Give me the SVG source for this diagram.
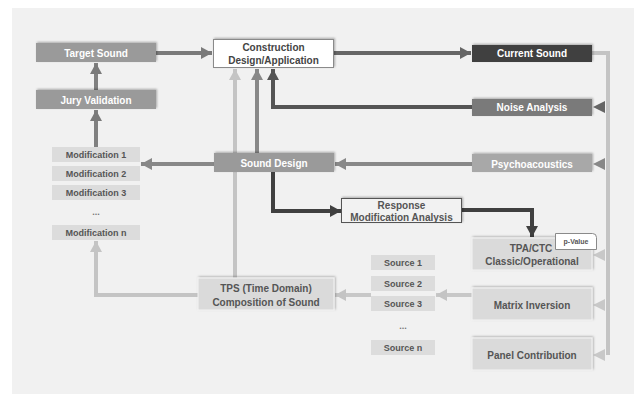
<svg xmlns="http://www.w3.org/2000/svg" width="634" height="394" viewBox="0 0 634 394">
<style>
text{font-family:"Liberation Sans",Arial,sans-serif;font-weight:bold;text-anchor:middle}
.w{fill:#ffffff;font-size:10px}
.d{fill:#555555;font-size:10px}
.k{fill:#444444;font-size:10px}
.s{fill:#555555;font-size:9px}
.c{fill:none;stroke-width:4}
.lite{fill:#dadada;stroke:#f4f4f4;stroke-width:1}
.small{fill:#dcdcdc}
</style>
<defs>
<filter id="sh" x="-10%" y="-30%" width="120%" height="160%">
<feDropShadow dx="1" dy="-1" stdDeviation="1.2" flood-color="#000" flood-opacity="0.3"/>
</filter>
<marker id="aGray" markerUnits="userSpaceOnUse" markerWidth="12" markerHeight="12" refX="11" refY="6" orient="auto"><path d="M0,0 L11,6 L0,12 Z" fill="#7a7a7a"/></marker>
<marker id="aMid" markerUnits="userSpaceOnUse" markerWidth="12" markerHeight="12" refX="11" refY="6" orient="auto"><path d="M0,0 L11,6 L0,12 Z" fill="#888888"/></marker>
<marker id="aDk" markerUnits="userSpaceOnUse" markerWidth="12" markerHeight="12" refX="11" refY="6" orient="auto"><path d="M0,0 L11,6 L0,12 Z" fill="#666666"/></marker>
<marker id="aDk2" markerUnits="userSpaceOnUse" markerWidth="12" markerHeight="12" refX="11" refY="6" orient="auto"><path d="M0,0 L11,6 L0,12 Z" fill="#555555"/></marker>
<marker id="aBlk" markerUnits="userSpaceOnUse" markerWidth="12" markerHeight="12" refX="11" refY="6" orient="auto"><path d="M0,0 L11,6 L0,12 Z" fill="#404040"/></marker>
<marker id="aLt" markerUnits="userSpaceOnUse" markerWidth="12" markerHeight="12" refX="11" refY="6" orient="auto"><path d="M0,0 L11,6 L0,12 Z" fill="#c4c4c4"/></marker>
</defs>
<rect x="12" y="8" width="622" height="386" fill="#f1f1f1"/>

<g id="connectors">
<path class="c" d="M156,53 H212" stroke="#7a7a7a" marker-end="url(#aGray)"/>
<path class="c" d="M96,90 V63" stroke="#808080" marker-end="url(#aGray)"/>
<path class="c" d="M96,147 V110" stroke="#808080" marker-end="url(#aGray)"/>
<path class="c" d="M214,164 H141" stroke="#888888" marker-end="url(#aMid)"/>
<path class="c" d="M334,53 H471" stroke="#666666" marker-end="url(#aDk)"/>
<path class="c" d="M592,53 H608 V355" stroke="#c4c4c4"/>
<polygon points="593,107 605,101 605,113" fill="#666666"/>
<polygon points="593,164 605,158 605,170" fill="#888888"/>
<polygon points="593,255 605,249 605,261" fill="#c8c8c8"/>
<polygon points="593,305 605,299 605,311" fill="#c8c8c8"/>
<polygon points="593,355 605,349 605,361" fill="#c8c8c8"/>
<path class="c" d="M472,107 H273 V69" stroke="#555555" marker-end="url(#aDk2)"/>
<path class="c" d="M472,164 H335" stroke="#888888" marker-end="url(#aMid)"/>
<path class="c" d="M257,153 V69" stroke="#888888" marker-end="url(#aMid)"/>
<path class="c" d="M235,278 V69" stroke="#c4c4c4" marker-end="url(#aLt)"/>
<path class="c" d="M273,172 V211 H341" stroke="#404040" marker-end="url(#aBlk)"/>
<path class="c" d="M462,210 H532 V237" stroke="#404040" marker-end="url(#aBlk)"/>
<path class="c" d="M198,295 H96 V241" stroke="#c4c4c4" marker-end="url(#aLt)"/>
<path class="c" d="M472,295 H436" stroke="#c8c8c8" marker-end="url(#aLt)"/>
<path class="c" d="M371,295 H335" stroke="#c8c8c8" marker-end="url(#aLt)"/>
</g>

<g id="target-sound"><rect x="36" y="43" width="120" height="19" fill="#9a9a9a" filter="url(#sh)"/><text class="w" x="96" y="56.5">Target Sound</text></g>
<g id="jury-validation"><rect x="36" y="90" width="120" height="19" fill="#9a9a9a" filter="url(#sh)"/><text class="w" x="96" y="103.5">Jury Validation</text></g>
<g id="construction"><rect x="213.5" y="39.5" width="120" height="28" fill="#ffffff" stroke="#8a8a8a" filter="url(#sh)"/><text class="k" x="273.5" y="50.5">Construction</text><text class="k" x="273.5" y="64">Design/Application</text></g>
<g id="current-sound"><rect x="472" y="45" width="120" height="17" fill="#3f3f3f" filter="url(#sh)"/><text class="w" x="532" y="57">Current Sound</text></g>
<g id="noise-analysis"><rect x="472" y="99" width="120" height="17" fill="#7a7a7a" filter="url(#sh)"/><text class="w" x="532" y="111">Noise Analysis</text></g>
<g id="psychoacoustics"><rect x="472" y="154" width="120" height="18" fill="#a8a8a8" filter="url(#sh)"/><text class="w" x="532" y="167.5">Psychoacoustics</text></g>
<g id="sound-design"><rect x="214" y="153" width="120" height="19" fill="#9a9a9a" filter="url(#sh)"/><text class="w" x="274" y="166.5">Sound Design</text></g>
<g id="modification-1"><rect class="small" x="52" y="147" width="88" height="15"/><text class="s" x="96" y="158">Modification 1</text></g>
<g id="modification-2"><rect class="small" x="52" y="166" width="88" height="15"/><text class="s" x="96" y="177">Modification 2</text></g>
<g id="modification-3"><rect class="small" x="52" y="185" width="88" height="15"/><text class="s" x="96" y="196">Modification 3</text></g>
<g id="modification-dots"><text class="s" x="96" y="215" style="fill:#777">...</text></g>
<g id="modification-n"><rect class="small" x="52" y="225" width="88" height="15"/><text class="s" x="96" y="236">Modification n</text></g>
<g id="response"><rect x="341.5" y="198.5" width="120" height="24" fill="#f2f2f2" stroke="#555555" filter="url(#sh)"/><text class="d" x="401.5" y="208.5">Response</text><text class="d" x="401.5" y="220.5">Modification Analysis</text></g>
<g id="tpa-ctc"><rect class="lite" x="472" y="238" width="120" height="32" filter="url(#sh)"/><text class="d" x="531" y="251.5">TPA/CTC</text><text class="d" x="532" y="264.5">Classic/Operational</text>
<path d="M555.5,233.5 H592.5 Q596.5,233.5 596.5,237.5 V249.5 H555.5 Z" fill="#ffffff" stroke="#8a8a8a" stroke-width="1"/><text x="576" y="244" style="fill:#555;font-size:7px">p-Value</text></g>
<g id="source-1"><rect class="small" x="371" y="255" width="64" height="15"/><text class="s" x="403" y="266">Source 1</text></g>
<g id="source-2"><rect class="small" x="371" y="276" width="64" height="15"/><text class="s" x="403" y="287">Source 2</text></g>
<g id="source-3"><rect class="small" x="371" y="296" width="64" height="15"/><text class="s" x="403" y="307">Source 3</text></g>
<g id="source-dots"><text class="s" x="403" y="329" style="fill:#777">...</text></g>
<g id="source-n"><rect class="small" x="371" y="340" width="64" height="15"/><text class="s" x="403" y="351">Source n</text></g>
<g id="matrix-inversion"><rect class="lite" x="472" y="288" width="120" height="32" filter="url(#sh)"/><text class="d" x="532" y="308.5">Matrix Inversion</text></g>
<g id="panel-contribution"><rect class="lite" x="472" y="338" width="120" height="32" filter="url(#sh)"/><text class="d" x="532" y="358.5">Panel Contribution</text></g>
<g id="tps"><rect class="lite" x="198" y="278" width="136" height="32" filter="url(#sh)"/><text class="d" x="266" y="291.5">TPS (Time Domain)</text><text class="d" x="266" y="305.5">Composition of Sound</text></g>
</svg>
